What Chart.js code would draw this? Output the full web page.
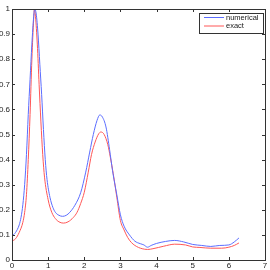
<!DOCTYPE html>
<html>
<head>
<meta charset="utf-8">
<script src="https://cdn.jsdelivr.net/npm/chart.js@4"></script>
<style>
  html, body { margin: 0; padding: 0; background: #fff; }
  #wrap { width: 270px; height: 270px; }
</style>
</head>
<body>
<div id="wrap"><canvas id="plot" width="270" height="270"></canvas></div>
<script>
'use strict';

// values
var numX = [0, 0.1, 0.2, 0.25, 0.3, 0.35, 0.4, 0.45, 0.5, 0.55, 0.6, 0.63, 0.67, 0.72, 0.77, 0.82, 0.87, 0.92, 0.97, 1.05, 1.13, 1.2, 1.3, 1.4, 1.5, 1.6, 1.74, 1.9, 2.04, 2.15, 2.25, 2.35, 2.43, 2.5, 2.6, 2.7, 2.78, 2.9, 3.0, 3.1, 3.25, 3.4, 3.55, 3.65, 3.75, 3.85, 4.0, 4.25, 4.5, 4.75, 5.0, 5.25, 5.5, 5.75, 6.0, 6.15, 6.28];
var numerical = [0.095, 0.11, 0.14, 0.17, 0.22, 0.3, 0.42, 0.58, 0.72, 0.86, 0.97, 1.0, 0.98, 0.9, 0.78, 0.66, 0.52, 0.4, 0.32, 0.25, 0.21, 0.19, 0.178, 0.174, 0.178, 0.19, 0.218, 0.268, 0.35, 0.43, 0.5, 0.555, 0.578, 0.57, 0.53, 0.44, 0.357, 0.26, 0.18, 0.135, 0.1, 0.075, 0.065, 0.06, 0.051, 0.058, 0.066, 0.074, 0.078, 0.072, 0.062, 0.058, 0.054, 0.058, 0.06, 0.072, 0.088];

var exX = [0, 0.1, 0.2, 0.3, 0.35, 0.4, 0.45, 0.5, 0.55, 0.6, 0.62, 0.65, 0.7, 0.75, 0.8, 0.85, 0.9, 1.0, 1.1, 1.2, 1.3, 1.42, 1.55, 1.7, 1.8, 1.9, 2.0, 2.11, 2.2, 2.3, 2.4, 2.46, 2.55, 2.65, 2.72, 2.8, 2.9, 3.0, 3.1, 3.2, 3.3, 3.4, 3.5, 3.6, 3.75, 3.9, 4.2, 4.5, 4.8, 5.0, 5.2, 5.5, 5.8, 6.0, 6.15, 6.28];
var exact = [0.075, 0.085, 0.11, 0.15, 0.19, 0.26, 0.4, 0.58, 0.8, 0.96, 1.0, 0.97, 0.86, 0.7, 0.55, 0.42, 0.33, 0.24, 0.19, 0.165, 0.152, 0.147, 0.152, 0.17, 0.19, 0.225, 0.27, 0.35, 0.42, 0.47, 0.503, 0.51, 0.5, 0.46, 0.41, 0.345, 0.25, 0.157, 0.12, 0.09, 0.07, 0.058, 0.05, 0.045, 0.042, 0.045, 0.055, 0.063, 0.06, 0.052, 0.05, 0.047, 0.047, 0.051, 0.058, 0.068];

var seriesNames = ['numerical', 'exact'];
var seriesColors = ['#5b6dff', '#ff5656'];

var xTicks = [0, 1, 2, 3, 4, 5, 6, 7];
var yTicks = [0, 0.1, 0.2, 0.3, 0.4, 0.5, 0.6, 0.7, 0.8, 0.9, 1];

function toPoints(xs, ys) {
  return xs.map(function (x, i) { return { x: x, y: ys[i] }; });
}

// plain labels: 1 not 1.0
function plainLabel(v) {
  return String(+Number(v).toFixed(1));
}

// box round the plot and ticks pointing inward on all four sides
var boxTicks = {
  id: 'boxTicks',
  afterDraw: function (chart) {
    var ctx = chart.ctx, a = chart.chartArea;
    var xs = chart.scales.x, ys = chart.scales.y;
    ctx.save();
    ctx.strokeStyle = '#333';
    ctx.lineWidth = 1;
    ctx.strokeRect(Math.round(a.left) + 0.5, Math.round(a.top) + 0.5,
      Math.round(a.right - a.left), Math.round(a.bottom - a.top));
    ctx.beginPath();
    xTicks.forEach(function (v) {
      var p = Math.round(xs.getPixelForValue(v)) + 0.5;
      ctx.moveTo(p, a.bottom); ctx.lineTo(p, a.bottom - 3);
      ctx.moveTo(p, a.top); ctx.lineTo(p, a.top + 3);
    });
    yTicks.forEach(function (v) {
      var p = Math.round(ys.getPixelForValue(v)) + 0.5;
      ctx.moveTo(a.left, p); ctx.lineTo(a.left + 3, p);
      ctx.moveTo(a.right, p); ctx.lineTo(a.right - 3, p);
    });
    ctx.stroke();
    ctx.restore();
  }
};

// matlab style legend box in the top right corner
var boxLegend = {
  id: 'boxLegend',
  afterDraw: function (chart) {
    var ctx = chart.ctx, a = chart.chartArea;
    var w = 64, h = 20;
    var left = a.right - 2 - w, top = a.top + 3.5;
    ctx.save();
    ctx.fillStyle = '#fff';
    ctx.fillRect(left, top, w, h);
    ctx.strokeStyle = '#333';
    ctx.lineWidth = 1;
    ctx.strokeRect(Math.round(left) + 0.5, Math.round(top) + 0.5, w, h);
    ctx.font = '7.5px "Liberation Sans", Arial, sans-serif';
    ctx.textBaseline = 'middle';
    chart.data.datasets.forEach(function (ds, i) {
      var y = top + 5 + i * 8.5;
      ctx.strokeStyle = ds.borderColor;
      ctx.beginPath();
      ctx.moveTo(left + 5, y); ctx.lineTo(left + 25, y);
      ctx.stroke();
      ctx.fillStyle = '#222';
      ctx.fillText(ds.label, left + 27, y);
    });
    ctx.restore();
  }
};

var tickFont = { family: '"Liberation Sans", Arial, sans-serif', size: 8 };

new Chart(document.getElementById('plot'), {
  type: 'line',
  data: {
    datasets: [
      { label: seriesNames[0], data: toPoints(numX, numerical), borderColor: seriesColors[0], borderWidth: 1, pointRadius: 0, cubicInterpolationMode: 'monotone', fill: false },
      { label: seriesNames[1], data: toPoints(exX, exact), borderColor: seriesColors[1], borderWidth: 1, pointRadius: 0, cubicInterpolationMode: 'monotone', fill: false }
    ]
  },
  options: {
    responsive: false,
    animation: false,
    layout: { padding: { top: 9, right: 5, left: 0, bottom: 0 } },
    plugins: { legend: { display: false }, tooltip: { enabled: false } },
    scales: {
      x: {
        type: 'linear', min: 0, max: 7,
        afterBuildTicks: function (s) { s.ticks = xTicks.map(function (v) { return { value: v }; }); },
        afterFit: function (s) { s.height = 10; },
        grid: { display: false, drawTicks: false },
        border: { display: false },
        ticks: { font: tickFont, color: '#222', padding: 1, maxRotation: 0, autoSkip: false, callback: plainLabel }
      },
      y: {
        type: 'linear', min: 0, max: 1,
        afterBuildTicks: function (s) { s.ticks = yTicks.map(function (v) { return { value: v }; }); },
        afterFit: function (s) { s.width = 12; },
        grid: { display: false, drawTicks: false },
        border: { display: false },
        ticks: { font: tickFont, color: '#222', padding: 2, autoSkip: false, callback: plainLabel }
      }
    }
  },
  plugins: [boxTicks, boxLegend]
});
</script>
</body>
</html>
